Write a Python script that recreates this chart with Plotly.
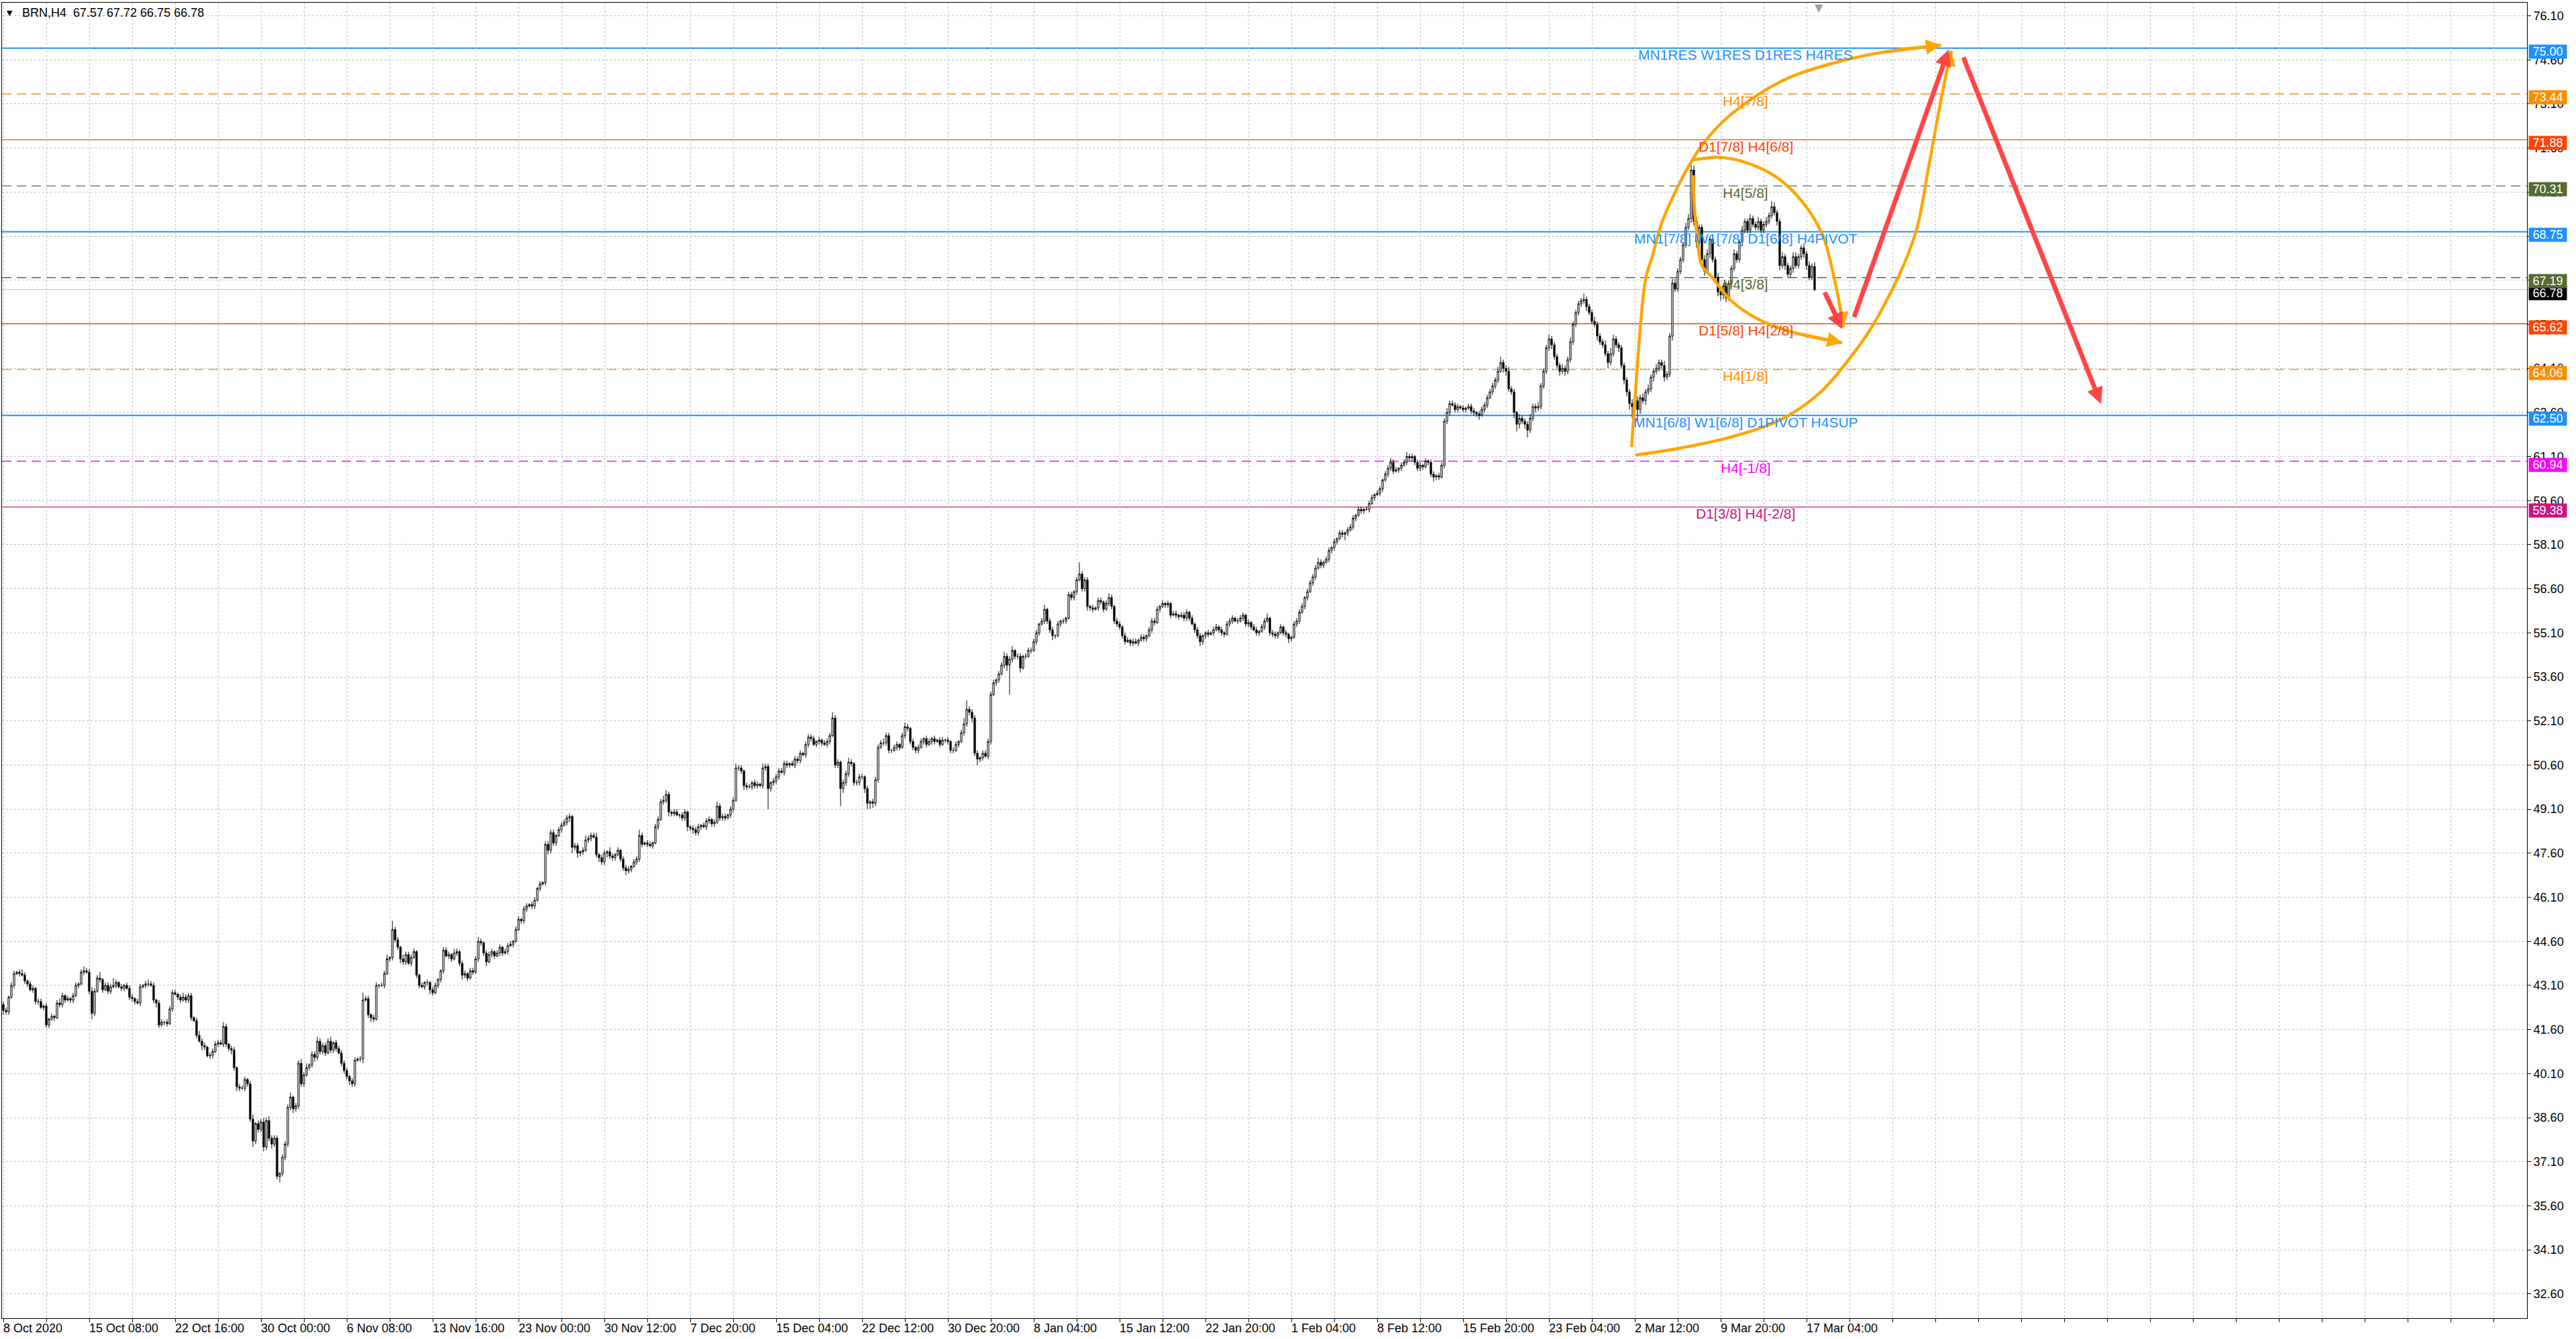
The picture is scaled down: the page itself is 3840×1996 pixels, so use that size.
import plotly.graph_objects as go

# ---------------- data ----------------
first_open = 42.45
closes = [
    42.25, 42.20, 42.70, 43.10, 43.50, 43.55, 43.50, 43.45, 43.25, 43.15, 42.95, 43.00, 42.55, 42.55, 42.35, 42.40,
    41.75, 41.95, 42.05, 42.00, 42.50, 42.45, 42.75, 42.60, 42.65, 42.60, 42.75, 43.10, 43.15, 43.55, 43.60, 43.55,
    42.90, 42.15, 42.90, 43.35, 43.30, 42.95, 43.10, 42.90, 43.05, 43.10, 43.20, 43.05, 43.00, 43.10, 43.00, 42.70,
    42.65, 42.55, 42.50, 43.05, 43.10, 43.15, 43.15, 43.10, 42.60, 42.50, 41.75, 41.85, 41.85, 41.80, 42.30, 42.85,
    42.80, 42.70, 42.60, 42.70, 42.60, 42.75, 42.00, 41.90, 41.40, 41.20, 41.05, 41.00, 40.70, 40.72, 40.85, 41.10,
    41.15, 41.10, 41.70, 41.10, 40.95, 40.90, 40.30, 39.65, 39.60, 39.60, 39.90, 39.75, 38.55, 37.80, 38.40, 38.20,
    38.45, 37.60, 38.50, 37.90, 37.70, 37.90, 36.60, 36.70, 37.25, 37.70, 38.95, 39.30, 38.90, 39.00, 40.45, 39.75,
    40.05, 40.30, 40.40, 40.75, 40.65, 41.20, 40.85, 41.05, 40.80, 41.20, 40.90, 41.15, 40.95, 40.80, 40.45, 40.20,
    40.00, 39.85, 39.75, 40.55, 40.60, 40.60, 42.60, 42.65, 42.10, 42.00, 41.95, 43.10, 43.10, 43.10, 43.50, 44.00,
    44.05, 45.00, 44.65, 44.40, 44.00, 43.90, 44.15, 43.85, 44.05, 44.25, 43.45, 43.10, 43.05, 43.20, 43.20, 42.95,
    42.85, 43.10, 43.30, 43.60, 44.30, 44.10, 44.15, 44.00, 44.20, 44.25, 43.85, 43.45, 43.50, 43.35, 43.60, 43.55,
    44.00, 44.60, 44.55, 44.20, 43.90, 44.15, 44.25, 44.10, 44.20, 44.40, 44.20, 44.25, 44.45, 44.50, 44.60, 45.00,
    45.35, 45.30, 45.70, 45.80, 45.85, 45.80, 46.00, 46.40, 46.55, 46.60, 47.90, 47.70, 48.30, 47.95, 48.20, 48.40,
    48.55, 48.65, 48.80, 48.85, 47.80, 47.85, 47.60, 47.65, 47.70, 48.05, 48.10, 48.20, 48.15, 47.55, 47.45, 47.30,
    47.60, 47.65, 47.50, 47.45, 47.55, 47.70, 47.40, 47.10, 47.00, 47.05, 47.15, 47.30, 47.40, 48.20, 47.90, 47.95,
    47.90, 47.85, 47.95, 48.50, 48.75, 49.35, 49.40, 49.60, 49.00, 48.95, 49.00, 48.90, 48.90, 48.80, 49.00, 48.50,
    48.45, 48.40, 48.30, 48.50, 48.55, 48.50, 48.70, 48.75, 48.60, 48.65, 49.20, 48.80, 48.85, 48.80, 48.90, 49.10,
    49.40, 50.50, 50.50, 50.40, 49.90, 49.85, 49.85, 50.00, 49.90, 49.95, 49.90, 50.50, 50.55, 49.80, 50.00, 50.05,
    50.20, 50.40, 50.35, 50.65, 50.60, 50.65, 50.60, 50.80, 50.75, 51.00, 50.95, 51.30, 51.55, 51.50, 51.30, 51.40,
    51.45, 51.35, 51.30, 51.40, 51.60, 52.20, 50.60, 50.70, 49.80, 50.00, 50.30, 50.70, 50.65, 50.00, 50.00, 50.20,
    50.20, 49.80, 49.30, 49.35, 49.30, 50.10, 51.20, 51.35, 51.35, 51.60, 51.10, 51.10, 51.20, 51.30, 51.20, 51.60,
    51.90, 51.85, 51.40, 51.20, 51.10, 51.20, 51.40, 51.50, 51.30, 51.40, 51.50, 51.40, 51.45, 51.30, 51.45, 51.45,
    51.40, 51.10, 51.10, 51.30, 51.40, 51.70, 52.00, 52.50, 52.40, 52.20, 51.00, 50.80, 50.85, 51.00, 50.90, 51.40,
    53.00, 53.40, 53.50, 53.70, 54.00, 54.30, 54.00, 54.20, 54.50, 54.30, 54.30, 53.90, 54.30, 54.30, 54.50, 54.50,
    54.80, 55.10, 55.40, 55.50, 55.90, 55.50, 55.20, 55.00, 55.00, 55.40, 55.50, 55.50, 55.60, 56.40, 56.30, 56.50,
    56.90, 57.10, 56.60, 56.90, 56.00, 55.95, 55.90, 55.95, 56.20, 56.15, 55.90, 56.10, 56.30, 56.00, 55.50, 55.40,
    55.30, 55.00, 54.80, 54.85, 54.75, 54.80, 54.75, 54.85, 54.95, 54.90, 55.00, 55.20, 55.50, 55.45, 55.90, 56.00,
    56.10, 56.05, 56.10, 55.70, 55.75, 55.70, 55.65, 55.70, 55.60, 55.80, 55.60, 55.40, 55.20, 55.00, 54.80, 55.00,
    55.10, 55.05, 55.10, 55.20, 55.30, 55.20, 55.10, 55.05, 55.40, 55.50, 55.60, 55.50, 55.50, 55.60, 55.70, 55.40,
    55.45, 55.30, 55.20, 55.10, 55.15, 55.30, 55.50, 55.60, 55.10, 55.05, 55.00, 55.10, 55.30, 55.10, 55.05, 54.90,
    54.95, 55.40, 55.50, 55.80, 56.00, 56.30, 56.50, 56.80, 57.00, 57.30, 57.50, 57.40, 57.50, 57.60, 57.90, 58.00,
    58.20, 58.30, 58.50, 58.45, 58.50, 58.60, 58.70, 59.00, 59.10, 59.30, 59.25, 59.30, 59.30, 59.50, 59.70, 59.80,
    59.85, 60.00, 60.30, 60.50, 60.70, 60.90, 60.60, 60.65, 60.70, 60.80, 60.90, 61.10, 61.05, 61.10, 60.90, 60.70,
    60.80, 60.75, 60.95, 60.90, 60.50, 60.40, 60.45, 60.40, 60.80, 62.30, 62.60, 62.90, 62.85, 62.70, 62.80, 62.75,
    62.70, 62.75, 62.80, 62.65, 62.60, 62.55, 62.50, 62.70, 62.85, 63.10, 63.30, 63.50, 63.70, 64.00, 64.30, 64.10,
    64.00, 63.40, 63.30, 62.60, 62.20, 62.40, 62.30, 62.20, 62.00, 62.40, 62.80, 62.75, 62.80, 63.50, 64.00, 64.80,
    65.10, 64.90, 64.50, 64.20, 64.00, 64.10, 64.00, 64.40, 65.00, 65.60, 66.00, 66.30, 66.40, 66.45, 66.20, 66.00,
    65.70, 65.60, 65.20, 65.00, 64.90, 64.60, 64.30, 64.60, 65.10, 64.90, 64.80, 64.20, 63.70, 63.30, 62.90, 62.80,
    63.00, 62.70, 63.10, 63.00, 63.30, 63.40, 63.80, 64.00, 64.10, 64.30, 64.20, 63.80, 63.90, 65.20, 67.00, 66.80,
    67.40, 67.80, 68.30, 68.90, 69.20, 70.85, 69.10, 68.40, 68.90, 67.80, 67.40, 68.00, 68.50, 67.80, 67.20, 66.70,
    66.60, 66.90, 66.50, 67.00, 67.50, 68.00, 67.80, 68.40, 68.80, 69.10, 68.80, 69.20, 69.00, 68.90, 69.10, 68.80,
    69.00, 69.10, 69.30, 69.60, 69.40, 69.10, 67.60, 67.90, 67.60, 67.30, 67.50, 67.90, 67.60, 67.90, 68.20, 68.00,
    67.60, 67.20, 67.57, 66.78,
]
# wick lengths beyond the candle body, in units of 0.05
upper_wick = [
    2,2,1,2,2,1,2,3,2,1,2,2,1,2,2,1, 2,1,2,1,2,3,2,1,2,1,2,2,1,2,3,2,
    2,3,2,2,4,1,2,2,2,5,2,1,2,1,2,2, 2,1,2,2,1,2,3,2,2,1,2,2,1,2,2,2,
    2,1,2,3,2,2,2,1,2,3,2,2,1,2,2,2, 2,2,3,2,1,2,2,1,2,2,2,1,2,3,1,2,
    2,3,2,3,2,2,2,1,2,2,2,3,1,2,2,3, 2,3,1,2,2,3,2,2,2,2,3,1,2,2,2,2,
    2,1,2,2,1,2,5,2,2,1,2,2,1,2,2,3, 1,6,2,2,1,3,2,2,2,2,1,1,2,1,2,1,
    2,2,1,1,2,2,2,1,3,2,1,2,2,1,2,2, 2,3,2,1,2,2,2,1,2,2,1,2,2,2,1,2,
    2,1,2,2,1,2,2,1,2,1,2,2,2,2,1,2, 2,2,2,2,1,2,2,1,2,3,2,2,2,3,1,2,
    2,1,3,2,1,2,1,2,2,2,1,2,2,4,2,1, 2,2,1,2,2,2,3,3,2,1,2,2,1,2,2,1,
    1,2,2,2,1,2,2,2,1,2,3,2,2,2,1,2, 2,3,2,2,1,2,2,1,2,2,1,3,2,2,1,2,
    2,2,2,2,2,1,2,2,2,2,1,2,2,2,2,1, 2,1,2,2,2,4,2,2,1,2,2,3,2,1,2,2,
    2,1,2,1,2,2,2,2,3,2,2,1,2,2,1,2, 3,2,1,2,1,2,2,1,2,2,1,2,1,2,2,1,
    2,1,2,2,1,2,4,6,2,2,2,2,1,2,2,2, 2,2,1,2,2,3,2,2,3,1,2,2,1,2,2,2,
    2,2,1,2,3,1,2,2,1,2,1,2,1,2,2,1, 2,8,2,2,2,1,2,1,2,2,1,2,3,2,1,2,
    2,1,2,2,1,2,2,1,2,2,1,2,2,2,2,1, 2,1,2,1,2,2,1,2,2,2,1,2,1,2,2,1,
    1,2,1,2,2,1,2,1,2,2,2,1,2,2,2,1, 2,1,2,2,1,2,2,3,1,2,2,1,2,1,2,1,
    1,2,2,2,2,1,2,2,2,2,3,2,1,2,2,1, 2,1,2,2,1,2,2,2,1,2,2,1,2,2,2,1,
    2,2,1,2,2,3,2,2,1,2,2,3,2,2,1,2, 2,1,2,1,2,2,1,2,2,2,3,2,2,2,2,1,
    2,1,2,2,2,1,2,2,2,2,2,2,2,3,4,2, 2,3,2,2,1,3,2,2,2,3,2,2,3,2,2,2,
    3,2,2,2,2,3,2,2,3,2,2,2,2,4,2,2, 2,3,2,2,2,3,2,4,3,2,2,2,2,2,2,3,
    3,3,2,3,2,3,2,2,3,2,2,3,2,2,3,3, 2,2,2,3,3,4,3,3,2,2,3,3,2,2,2,3,
    3,2,3,2,2,3,2,2,3,2,2,3,2,2,3,2, 2,3,2,4,3,2,2,3,2,2,2,3,3,2,2,3,
    2,3,2,3,
]
lower_wick = [
    3,2,2,1,2,1,2,1,2,2,1,2,2,2,1,2, 2,2,1,2,1,2,2,2,1,2,2,1,2,1,2,1,
    2,4,2,1,2,2,1,2,2,1,2,1,2,2,1,2, 2,2,1,2,1,2,2,1,2,3,2,1,2,2,1,2,
    1,2,2,1,2,2,2,1,2,1,3,2,1,2,2,1, 2,1,2,2,2,3,2,3,2,1,2,2,2,4,2,2,
    2,3,2,2,3,2,2,4,2,2,2,2,3,2,2,2, 2,1,2,2,3,2,2,2,2,1,2,2,2,1,2,2,
    2,3,2,2,1,2,3,1,2,3,2,1,2,1,2,1, 2,2,2,2,3,2,2,1,2,1,2,2,1,2,2,3,
    2,1,2,2,2,1,2,2,1,2,2,3,2,2,1,2, 1,2,2,2,3,1,2,2,1,2,2,1,2,1,2,1,
    1,2,2,2,1,2,2,1,2,1,2,3,2,2,2,1, 2,1,2,3,4,2,3,2,2,1,2,2,1,2,3,2,
    2,3,2,2,2,1,2,2,3,2,2,1,2,2,2,1, 2,1,2,1,2,1,2,2,3,2,2,1,2,2,2,3,
    2,3,2,2,2,1,2,2,2,2,1,2,2,2,1,2, 2,1,2,2,3,2,1,2,2,2,1,2,2,14,2,2,
    2,2,1,2,2,2,1,2,2,2,1,2,2,2,1,2, 2,2,1,2,2,1,2,2,12,3,2,2,2,2,2,2,
    2,3,4,4,3,2,2,1,2,2,2,2,1,2,2,1, 2,2,2,2,2,2,1,2,2,1,2,2,1,2,1,2,
    2,2,2,1,2,1,2,2,2,3,2,4,2,2,1,2, 2,1,2,2,1,2,4,20,2,2,2,3,1,2,1,2,
    1,2,2,1,2,2,2,3,2,1,2,2,2,1,2,2, 2,1,2,2,3,2,2,1,2,2,2,1,2,2,2,2,
    2,2,2,1,2,2,1,2,1,2,2,1,2,2,1,2, 1,2,2,2,1,2,2,1,2,2,2,1,2,2,3,2,
    2,2,1,2,1,2,2,2,1,2,2,1,2,1,2,2, 2,2,1,2,2,1,2,1,2,2,2,2,1,2,2,3,
    2,1,2,2,1,2,2,1,2,2,1,2,2,1,2,2, 2,2,1,2,4,2,1,2,2,1,2,2,1,2,1,2,
    1,2,2,1,2,2,2,1,2,2,1,2,2,2,2,2, 2,2,1,2,2,3,2,2,1,2,2,2,1,2,2,1,
    2,2,1,2,2,2,3,1,2,2,1,2,2,2,1,3, 3,2,2,4,5,3,2,3,5,2,2,3,2,2,2,2,
    2,3,2,2,3,2,3,2,2,2,2,2,2,2,3,2, 2,2,3,2,2,2,4,2,2,2,3,2,3,3,4,8,
    6,8,3,2,3,2,2,3,2,2,2,3,2,2,3,2, 2,2,2,2,2,3,3,4,3,2,3,2,3,2,3,3,
    4,3,3,2,3,2,2,2,3,2,2,2,2,2,2,2, 2,2,2,2,2,3,3,2,3,2,2,3,2,2,2,3,
    3,2,2,1,
]

x_tick_labels = ["8 Oct 2020", "15 Oct 08:00", "22 Oct 16:00", "30 Oct 00:00", "6 Nov 08:00",
                 "13 Nov 16:00", "23 Nov 00:00", "30 Nov 12:00", "7 Dec 20:00", "15 Dec 04:00",
                 "22 Dec 12:00", "30 Dec 20:00", "8 Jan 04:00", "15 Jan 12:00", "22 Jan 20:00",
                 "1 Feb 04:00", "8 Feb 12:00", "15 Feb 20:00", "23 Feb 04:00", "2 Mar 12:00",
                 "9 Mar 20:00", "17 Mar 04:00"]
bars_per_label = 32

y_tick_labels = ["76.10", "74.60", "73.10", "71.60", "70.10", "68.60", "67.10", "65.60", "64.10",
                 "62.60", "61.10", "59.60", "58.10", "56.60", "55.10", "53.60", "52.10", "50.60",
                 "49.10", "47.60", "46.10", "44.60", "43.10", "41.60", "40.10", "38.60", "37.10",
                 "35.60", "34.10", "32.60"]

level_values = [75.00, 73.44, 71.88, 70.31, 68.75, 67.19, 65.62, 64.06, 62.50, 60.94, 59.38]
level_names = ["MN1RES W1RES D1RES H4RES", "H4[7/8]", "D1[7/8] H4[6/8]", "H4[5/8]",
               "MN1[7/8] W1[7/8] D1[6/8] H4PIVOT", "H4[3/8]", "D1[5/8] H4[2/8]", "H4[1/8]",
               "MN1[6/8] W1[6/8] D1PIVOT H4SUP", "H4[-1/8]", "D1[3/8] H4[-2/8]"]
level_colors = ["#1E90FF", "#FF8C00", "#FF4500", "#556B2F", "#1E90FF", "#556B2F", "#FF4500",
                "#FF8C00", "#1E90FF", "#FF00FF", "#C71585"]
level_dashed = [False, True, False, True, False, True, False, True, False, True, False]
top_level_value = 76.5625
top_level_name = "H4[+1/8]"
last_price = 66.78
title_text = "BRN,H4  67.57 67.72 66.75 66.78"

# drawn objects (bar index, price)
outer_curve_x = [608.3, 624.5, 643.7, 662.8, 677.2, 686.7, 696.3, 704.0, 709.7, 713.5, 717.4, 721.2, 724.0, 726.0]
outer_curve_y = [61.15, 61.38, 61.76, 62.37, 63.29, 64.28, 65.50, 66.80, 67.95, 69.00, 70.90, 72.80, 74.10, 74.91]
left_curve_x = [606.8, 608.3, 610.2, 612.1, 614.5, 617.8, 624.5, 629.3, 634.1, 643.7, 662.8, 682.0, 701.1, 722.1]
left_curve_y = [61.42, 63.36, 65.66, 67.18, 67.90, 68.99, 70.37, 71.17, 71.82, 72.73, 73.88, 74.49, 74.87, 75.10]
arc_curve_x = [629.8, 638.9, 648.5, 660.9, 670.5, 678.1, 681.5, 684.0, 685.8]
arc_curve_y = [71.19, 71.28, 71.13, 70.60, 69.76, 68.61, 67.50, 66.42, 65.50]
inner_curve_x = [629.8, 630.1, 631.2, 633.0, 637.0, 643.7, 653.2, 667.6, 685.3]
inner_curve_y = [70.67, 69.76, 68.61, 67.60, 67.18, 66.42, 65.81, 65.31, 64.97]
red_arrows = [((678.6, 66.72), (685.3, 65.43)),
              ((689.6, 65.81), (725.0, 74.95)),
              ((730.3, 74.72), (781.75, 62.89))]
shift_marker_bar = 676.5

# ---------------- build ----------------
n = len(closes)
xs = list(range(n))
opens = [first_open] + closes[:-1]
highs = [max(o, c) + u * 0.05 for o, c, u in zip(opens, closes, upper_wick)]
lows = [min(o, c) - d * 0.05 for o, c, d in zip(opens, closes, lower_wick)]

AX_FONT = "Liberation Sans, Arial, sans-serif"
X_MIN, X_MAX = -0.5, 940.5
Y_MIN, Y_MAX = 31.774, 76.545

fig = go.Figure()
fig.add_trace(go.Candlestick(
    x=xs, open=opens, high=highs, low=lows, close=closes,
    increasing=dict(line=dict(color="black", width=1), fillcolor="white"),
    decreasing=dict(line=dict(color="black", width=1), fillcolor="black"),
    whiskerwidth=0, showlegend=False, hoverinfo="skip"))

ORANGE = "#FFA500"
for cx, cy in [(outer_curve_x, outer_curve_y), (left_curve_x, left_curve_y),
               (arc_curve_x, arc_curve_y), (inner_curve_x, inner_curve_y)]:
    fig.add_trace(go.Scatter(x=cx, y=cy, mode="lines",
                             line=dict(color=ORANGE, width=4.5, shape="spline", smoothing=1.0),
                             showlegend=False, hoverinfo="skip"))

shapes = []
for v, c, dsh in zip(level_values, level_colors, level_dashed):
    shapes.append(dict(type="line", xref="paper", x0=0, x1=1, yref="y", y0=v, y1=v, layer="below",
                       line=dict(color=c, width=2 if c == "#1E90FF" else 1.4,
                                 dash="14px,8px" if dsh else "solid")))
shapes.append(dict(type="line", xref="paper", x0=0, x1=1, yref="y", y0=last_price, y1=last_price,
                   layer="below", line=dict(color="#C0C0C0", width=1)))

ann = []
# x-axis labels (left aligned at their tick, like MT4)
for i, lab in enumerate(x_tick_labels):
    ann.append(dict(x=i * bars_per_label, xref="x", y=0, yref="paper", yanchor="top", xanchor="left",
                    xshift=-2, yshift=-3, text=lab, showarrow=False,
                    font=dict(family=AX_FONT, size=18, color="black")))
# level names
label_x = 649.25
for v, nm, c in zip(level_values, level_names, level_colors):
    ann.append(dict(x=label_x, xref="x", y=v, yref="y", yshift=-10, text=nm, showarrow=False,
                    font=dict(family=AX_FONT, size=21, color=c)))
ann.append(dict(x=label_x, xref="x", y=top_level_value, yref="y", yshift=-10, text=top_level_name,
                showarrow=False, font=dict(family=AX_FONT, size=21, color="#FF00FF")))
# price boxes on right axis (current price box drawn beneath the 67.19 box)
box_values = level_values[:5] + [last_price, level_values[5]] + level_values[6:]
box_colors = level_colors[:5] + ["black", level_colors[5]] + level_colors[6:]
for v, c in zip(box_values, box_colors):
    ann.append(dict(x=1, xref="paper", y=v, yref="y", xanchor="left", xshift=2, yshift=-5,
                    text=f"{v:.2f}", showarrow=False, bgcolor=c, width=56, height=20, borderpad=0,
                    font=dict(family=AX_FONT, size=18, color="white")))
# title
ann.append(dict(x=0, xref="paper", y=1, yref="paper", xanchor="left", yanchor="middle", xshift=5, yshift=-15,
                text="▼", showarrow=False, font=dict(family="DejaVu Sans", size=11, color="black")))
ann.append(dict(x=0, xref="paper", y=1, yref="paper", xanchor="left", yanchor="middle", xshift=28, yshift=-15,
                text=title_text, showarrow=False, font=dict(family=AX_FONT, size=18, color="black")))
# chart shift marker
ann.append(dict(x=shift_marker_bar, xref="x", y=1, yref="paper", yanchor="top", yshift=4, text="▼",
                showarrow=False, font=dict(family="DejaVu Sans", size=16, color="#A0A0A0")))
# orange arrow heads
for cx, cy in [(outer_curve_x, outer_curve_y), (left_curve_x, left_curve_y),
               (arc_curve_x, arc_curve_y), (inner_curve_x, inner_curve_y)]:
    ann.append(dict(x=cx[-1], y=cy[-1], ax=cx[-2], ay=cy[-2], xref="x", yref="y", axref="x", ayref="y",
                    showarrow=True, arrowhead=2, arrowsize=1.0, arrowwidth=4.5, arrowcolor=ORANGE,
                    text="", standoff=0))
# red arrows
for (tx, ty), (hx, hy) in red_arrows:
    ann.append(dict(x=hx, y=hy, ax=tx, ay=ty, xref="x", yref="y", axref="x", ayref="y",
                    showarrow=True, arrowhead=2, arrowsize=0.7, arrowwidth=7, arrowcolor="#FF4545",
                    text="", standoff=0))

y_tick_vals = [float(t) for t in y_tick_labels]

fig.update_layout(
    width=3840, height=1996, autosize=False,
    margin=dict(l=3, r=73, t=4, b=31, pad=0),
    paper_bgcolor="white", plot_bgcolor="white",
    showlegend=False, boxgap=0.2,
    shapes=shapes, annotations=ann,
    xaxis=dict(range=[X_MIN, X_MAX], rangeslider=dict(visible=False), tickmode="array",
               tickvals=list(range(0, 941, 16)), showticklabels=False, ticks="outside", ticklen=5,
               tickcolor="black", showgrid=True, gridcolor="#C0C0C0", griddash="3px,3px", gridwidth=1,
               zeroline=False, showline=True, mirror=True, linecolor="black", linewidth=1, fixedrange=True),
    yaxis=dict(range=[Y_MIN, Y_MAX], side="right", tickmode="array", tickvals=y_tick_vals,
               ticktext=y_tick_labels, ticks="outside", ticklen=5, tickcolor="black",
               tickfont=dict(family=AX_FONT, size=18, color="black"),
               showgrid=True, gridcolor="#C0C0C0", griddash="3px,3px", gridwidth=1,
               zeroline=False, showline=True, mirror=True, linecolor="black", linewidth=1, fixedrange=True),
)

fig.write_html("out.html", config=dict(displayModeBar=False, staticPlot=True),
               post_script="document.body.style.margin='0px';")
